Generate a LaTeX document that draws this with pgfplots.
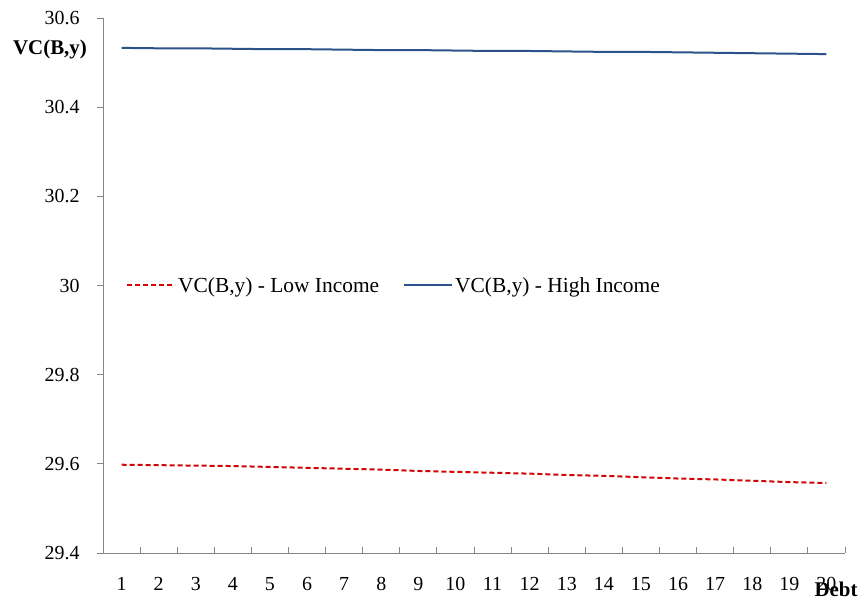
\documentclass[border=0pt]{standalone}
\usepackage{fontspec}
\setmainfont{Liberation Serif}
\usepackage{pgfplots}
\pgfplotsset{compat=1.18}
\definecolor{hiblue}{RGB}{44,82,138}
\definecolor{lored}{RGB}{210,0,0}
\definecolor{axgray}{RGB}{134,134,134}

\begin{document}
\begin{tikzpicture}
\begin{axis}[
  at={(0,0)}, anchor=south west,
  scale only axis, width=742bp, height=535bp,
  clip=false,
  xmin=0.5, xmax=20.5, ymin=29.4, ymax=30.6,
  axis x line*=bottom, axis y line*=left,
  axis line style={axgray, line width=0.9pt, -},
  xtick={1,...,20},
  xticklabels={1,2,3,4,5,6,7,8,9,10,11,12,13,14,15,16,17,18,19,20},
  major x tick style={draw=none},
  minor xtick={1.5,2.5,...,20.5},
  minor x tick style={axgray, line width=0.9pt},
  minor tick length=6bp,
  xtick align=inside,
  ytick={29.4,29.6,29.8,30,30.2,30.4,30.6},
  yticklabels={29.4,29.6,29.8,30,30.2,30.4,30.6},
  ytick align=outside,
  y tick style={axgray, line width=0.9pt},
  major tick length=6bp,
  /pgf/number format/assume math mode=true,
  tick label style={font=\fontsize{20}{20}\selectfont},
  xticklabel style={yshift=-21bp},
  yticklabel style={xshift=-14bp},
  legend style={at={(rel axis cs:0,0.5)}, anchor=west, xshift=20bp,
    draw=none, fill=none, font=\fontsize{21.5}{21.5}\selectfont,
    legend columns=2,
    /tikz/every even column/.append style={column sep=22bp}},
  legend cell align=left,
  legend image code/.code={\draw[#1] (0bp,0bp) -- (48bp,0bp);},
]
\addplot[lored, line width=2bp, dash pattern=on 5bp off 3bp] coordinates {
(1,29.598) (2,29.597) (3,29.596) (4,29.595) (5,29.593) (6,29.591) (7,29.589)
(8,29.587) (9,29.584) (10,29.582) (11,29.580) (12,29.578) (13,29.575) (14,29.573)
(15,29.570) (16,29.567) (17,29.565) (18,29.562) (19,29.559) (20,29.557)};
\addlegendentry{VC(B,y) - Low Income}
\addplot[hiblue, line width=2bp] coordinates {
(1,30.533) (2,30.532) (3,30.532) (4,30.531) (5,30.530) (6,30.530) (7,30.529)
(8,30.528) (9,30.528) (10,30.527) (11,30.526) (12,30.526) (13,30.525) (14,30.524)
(15,30.524) (16,30.523) (17,30.522) (18,30.521) (19,30.520) (20,30.519)};
\addlegendentry{VC(B,y) - High Income}
\node[font=\bfseries\fontsize{21}{21}\selectfont, anchor=center]
  at (rel axis cs:0,1) [xshift=-53bp, yshift=-32bp] {VC(B,y)};
\node[font=\bfseries\fontsize{21}{21}\selectfont, anchor=center]
  at (rel axis cs:1,0) [xshift=-9bp, yshift=-36bp] {Debt};
\end{axis}
\pgfresetboundingbox
\path (-103bp,-50bp) rectangle (762bp,553bp);
\end{tikzpicture}
\end{document}
